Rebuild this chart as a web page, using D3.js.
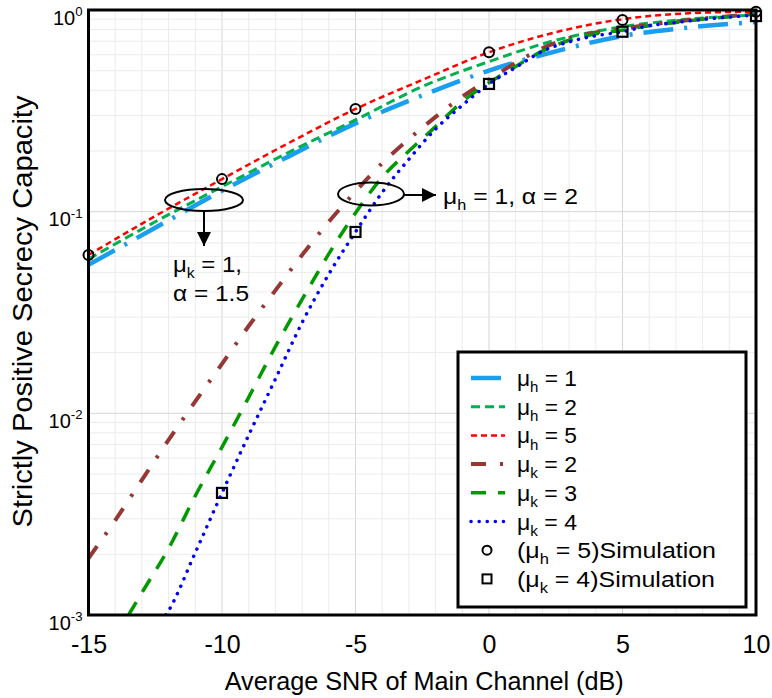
<!DOCTYPE html>
<html>
<head>
<meta charset="utf-8">
<script src="https://cdn.jsdelivr.net/npm/d3@7/dist/d3.min.js"></script>
<style>
  body { margin: 0; background: #fff; }
  svg { display: block; font-family: "Liberation Sans", Arial, sans-serif; }
</style>
</head>
<body>
<div id="chart-area"></div>
<script>
// analytic curves, mu_h family (every 2.5 dB)
let snrH = [-15, -12.5, -10, -7.5, -5, -2.5, 0, 2.5, 5, 7.5, 10];
let capH1 = [0.0545, 0.0832, 0.127, 0.188, 0.274, 0.377, 0.501, 0.624, 0.743, 0.819, 0.871];
let capH2 = [0.0582, 0.0891, 0.133, 0.197, 0.285, 0.417, 0.555, 0.708, 0.826, 0.902, 0.944];
let capH5 = [0.061, 0.0951, 0.145, 0.219, 0.323, 0.45, 0.617, 0.776, 0.9, 0.964, 0.982];

// analytic curves, mu_k family (every 1 dB)
let snrK2 = [-15, -14, -13, -12, -11, -10, -9, -8, -7, -6, -5, -4, -3, -2, -1, 0, 1, 2, 3, 4, 5, 6, 7, 8, 9, 10];
let capK2 = [0.00191, 0.00295, 0.00468, 0.00738, 0.01146, 0.0176, 0.0271, 0.0407, 0.061, 0.0891, 0.126, 0.174, 0.229,
  0.295, 0.372, 0.452, 0.547, 0.646, 0.724, 0.773, 0.807, 0.845, 0.877, 0.906, 0.931, 0.955];
let snrK3 = [-13.5, -13, -12, -11, -10, -9, -8, -7, -6, -5, -4, -3, -2, -1, 0, 1, 2, 3, 4, 5, 6, 7, 8, 9, 10];
let capK3 = [0.001, 0.00129, 0.00214, 0.0039, 0.0068, 0.012, 0.0214, 0.0367, 0.0617, 0.0986, 0.148, 0.2, 0.264,
  0.351, 0.436, 0.525, 0.626, 0.708, 0.762, 0.794, 0.836, 0.867, 0.9, 0.927, 0.955];
let snrK4 = [-12.1, -12, -11, -10, -9, -8, -7, -6, -5, -4, -3, -2, -1, 0, 1, 2, 3, 4, 5, 6, 7, 8, 9, 10];
let capK4 = [0.001, 0.00105, 0.00204, 0.00403, 0.0078, 0.0148, 0.0282, 0.049, 0.0793, 0.1245, 0.182, 0.257, 0.337,
  0.43, 0.519, 0.624, 0.695, 0.745, 0.78, 0.836, 0.867, 0.898, 0.923, 0.944];

// simulation markers
let simSnrH = [-15, -10, -5, 0, 5, 10];
let simH5 = [0.061, 0.145, 0.323, 0.617, 0.892, 0.98];
let simSnrK = [-10, -5, 0, 5, 10];
let simK4 = [0.00403, 0.0793, 0.43, 0.78, 0.933];

let xTicks = [-15, -10, -5, 0, 5, 10];
let yTicks = [1e-3, 1e-2, 1e-1, 1];
let yTickExp = ["-3", "-2", "-1", "0"];

let series = [
  { label: ["μ", ["h"], " = 1"], x: snrH, y: capH1, color: "#1a9ff0", width: 4.5, dash: "30,11,3,11" },
  { label: ["μ", ["h"], " = 2"], x: snrH, y: capH2, color: "#00b050", width: 3, dash: "9,5" },
  { label: ["μ", ["h"], " = 5"], x: snrH, y: capH5, color: "#ff0000", width: 2.5, dash: "6,4" },
  { label: ["μ", ["k"], " = 2"], x: snrK2, y: capK2, color: "#953735", width: 4, dash: "15,14,3,14" },
  { label: ["μ", ["k"], " = 3"], x: snrK3, y: capK3, color: "#009a00", width: 3.5, dash: "15,12" },
  { label: ["μ", ["k"], " = 4"], x: snrK4, y: capK4, color: "#0000ff", width: 3.5, dash: "0.1,8", cap: "round" }
];

let W = 772, H = 698;
let margin = { top: 10, right: 16, bottom: 83, left: 88.5 },
  width = W - margin.left - margin.right,
  height = H - margin.top - margin.bottom;

let xScale = d3.scaleLinear().domain([-15, 10]).range([0, width]);
let yScale = d3.scaleLog().domain([1e-3, 1]).range([height, 0]);

let root = d3.select("#chart-area").append("svg")
  .attr("width", W)
  .attr("height", H);

let svg = root.append("g")
  .attr("transform", "translate(" + margin.left + "," + margin.top + ")");

// text with sub/superscripts: parts are strings or [text, "sup"]
function richText(sel, parts, size, len) {
  let shift = 0;
  parts.forEach(p => {
    let sup = Array.isArray(p) && p[1] === "sup";
    let sub = Array.isArray(p) && !sup;
    let target = sub ? size * 0.28 : sup ? -size * 0.42 : 0;
    sel.append("tspan")
      .attr("dy", target - shift)
      .attr("font-size", Array.isArray(p) ? size * 0.66 : size)
      .text(Array.isArray(p) ? p[0] : p);
    shift = target;
  });
  if (len) sel.attr("textLength", len).attr("lengthAdjust", "spacingAndGlyphs");
  return sel;
}

// grid
svg.append("defs").append("clipPath").attr("id", "clip")
  .append("rect").attr("width", width).attr("height", height);

let grid = svg.append("g");
grid.selectAll(".gx")
  .data(d3.range(-15, 11, 1))
  .enter().append("line")
  .attr("x1", d => xScale(d)).attr("x2", d => xScale(d))
  .attr("y1", 0).attr("y2", height)
  .attr("stroke", d => d % 5 === 0 ? "#d6d6d6" : "#ececec")
  .attr("stroke-width", 1);
grid.selectAll(".gy")
  .data(yScale.ticks())
  .enter().append("line")
  .attr("x1", 0).attr("x2", width)
  .attr("y1", d => yScale(d)).attr("y2", d => yScale(d))
  .attr("stroke", d => yTicks.some(t => Math.abs(t - d) < 1e-9) ? "#d6d6d6" : "#ececec")
  .attr("stroke-width", 1);

// lines
let lines = svg.append("g").attr("clip-path", "url(#clip)");
series.forEach(s => {
  let pts = s.x.map((x, i) => [x, s.y[i]]);
  let line = d3.line()
    .x(d => xScale(d[0]))
    .y(d => yScale(d[1]))
    .curve(d3.curveMonotoneX);
  lines.append("path")
    .datum(pts)
    .attr("fill", "none")
    .attr("stroke", s.color)
    .attr("stroke-width", s.width)
    .attr("stroke-dasharray", s.dash)
    .attr("stroke-linecap", s.cap || "butt")
    .attr("d", line);
});

// simulation markers
svg.selectAll(".simh")
  .data(simSnrH)
  .enter().append("circle")
  .attr("cx", d => xScale(d))
  .attr("cy", (d, i) => yScale(simH5[i]))
  .attr("r", 5)
  .attr("fill", "none")
  .attr("stroke", "#000")
  .attr("stroke-width", 2);
svg.selectAll(".simk")
  .data(simSnrK)
  .enter().append("rect")
  .attr("x", d => xScale(d) - 5)
  .attr("y", (d, i) => yScale(simK4[i]) - 5)
  .attr("width", 10).attr("height", 10)
  .attr("fill", "none")
  .attr("stroke", "#000")
  .attr("stroke-width", 2.2);

// frame
svg.append("rect")
  .attr("width", width).attr("height", height)
  .attr("fill", "none").attr("stroke", "#000").attr("stroke-width", 3);

// axes
let xAxis = svg.append("g")
  .attr("transform", "translate(0," + height + ")")
  .call(d3.axisBottom(xScale).tickValues(xTicks).tickSize(0).tickFormat(d3.format("d")));
xAxis.select(".domain").remove();
xAxis.selectAll("text")
  .attr("font-family", "Liberation Sans, Arial, sans-serif")
  .attr("font-size", 25).attr("fill", "#000")
  .attr("dy", "0.71em").attr("y", 20)
  .text(d => d < 0 ? "-" + Math.abs(d) : d);

let yAxis = svg.append("g")
  .call(d3.axisLeft(yScale).tickValues(yTicks).tickSize(0).tickFormat(""));
yAxis.select(".domain").remove();
yAxis.selectAll(".tick").each(function(d, i) {
  let t = d3.select(this).append("text")
    .attr("x", -6).attr("y", 14)
    .attr("text-anchor", "end")
    .attr("fill", "#000");
  richText(t, ["10", [yTickExp[i], "sup"]], 20);
});

// axis titles
root.append("text")
  .attr("x", margin.left + width / 2 + 2).attr("y", 690)
  .attr("text-anchor", "middle")
  .attr("font-size", 25.5)
  .attr("textLength", 399).attr("lengthAdjust", "spacingAndGlyphs")
  .text("Average SNR of Main Channel (dB)");
root.append("text")
  .attr("transform", "translate(32," + (margin.top + height / 2 - 1) + ") rotate(-90)")
  .attr("text-anchor", "middle")
  .attr("font-size", 28)
  .attr("textLength", 432).attr("lengthAdjust", "spacingAndGlyphs")
  .text("Strictly Positive Secrecy Capacity");

// annotations
svg.append("defs").append("marker")
  .attr("id", "arrow").attr("viewBox", "0 0 10 10")
  .attr("refX", 10).attr("refY", 5)
  .attr("markerWidth", 7).attr("markerHeight", 7)
  .attr("orient", "auto")
  .append("path").attr("d", "M0,0L10,5L0,10z").attr("fill", "#000");

let ann = root.append("g");
ann.append("ellipse").attr("cx", 204).attr("cy", 200).attr("rx", 39).attr("ry", 11)
  .attr("fill", "none").attr("stroke", "#000").attr("stroke-width", 2);
ann.append("line").attr("x1", 204).attr("y1", 211).attr("x2", 204).attr("y2", 246)
  .attr("stroke", "#000").attr("stroke-width", 2).attr("marker-end", "url(#arrow)");
richText(ann.append("text").attr("x", 173).attr("y", 272), ["μ", ["k"], " = 1,"], 22, 69);
richText(ann.append("text").attr("x", 173).attr("y", 301), ["α = 1.5"], 22, 76);

ann.append("ellipse").attr("cx", 371).attr("cy", 194).attr("rx", 33).attr("ry", 11.5)
  .attr("fill", "none").attr("stroke", "#000").attr("stroke-width", 2);
ann.append("line").attr("x1", 404).attr("y1", 195).attr("x2", 436).attr("y2", 195)
  .attr("stroke", "#000").attr("stroke-width", 2).attr("marker-end", "url(#arrow)");
richText(ann.append("text").attr("x", 443).attr("y", 204), ["μ", ["h"], " = 1, α = 2"], 22, 135);

// legend
let legend = root.append("g");
legend.append("rect")
  .attr("x", 458).attr("y", 352).attr("width", 288).attr("height", 255)
  .attr("fill", "#fff").attr("stroke", "#000").attr("stroke-width", 3);

let rowY = i => 378 + i * 28.7;
series.forEach((s, i) => {
  legend.append("line")
    .attr("x1", 471).attr("x2", 505)
    .attr("y1", rowY(i)).attr("y2", rowY(i))
    .attr("stroke", s.color)
    .attr("stroke-width", s.width)
    .attr("stroke-dasharray", s.dash)
    .attr("stroke-linecap", s.cap || "butt");
  richText(legend.append("text").attr("x", 517).attr("y", rowY(i) + 8), s.label, 22, 60);
});
legend.append("circle").attr("cx", 487).attr("cy", rowY(6)).attr("r", 4.5)
  .attr("fill", "none").attr("stroke", "#000").attr("stroke-width", 2);
richText(legend.append("text").attr("x", 517).attr("y", rowY(6) + 8), ["(μ", ["h"], " = 5)Simulation"], 22, 199);
legend.append("rect").attr("x", 482.5).attr("y", rowY(7) - 4.5).attr("width", 9).attr("height", 9)
  .attr("fill", "none").attr("stroke", "#000").attr("stroke-width", 2);
richText(legend.append("text").attr("x", 517).attr("y", rowY(7) + 8), ["(μ", ["k"], " = 4)Simulation"], 22, 198);
</script>
</body>
</html>
